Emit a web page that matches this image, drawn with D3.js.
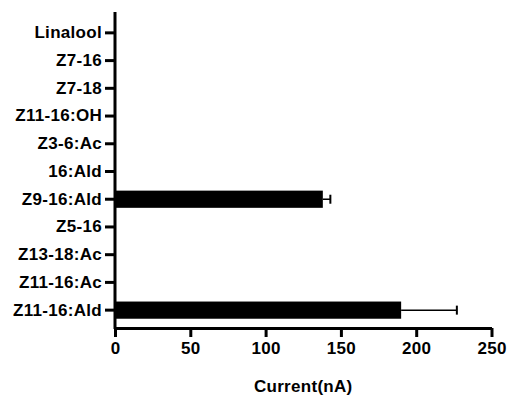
<!DOCTYPE html>
<html>
<head>
<meta charset="utf-8">
<script src="https://cdn.jsdelivr.net/npm/d3@7"></script>
<style>
  body { margin: 0; background: #fff; }
  text { font-family: "Liberation Sans", Arial, sans-serif; font-weight: bold; letter-spacing: 0.3px; }
</style>
</head>
<body>
<div id="chart"></div>
<script>
// data
var compounds = ["Linalool", "Z7-16", "Z7-18", "Z11-16:OH", "Z3-6:Ac", "16:Ald",
                 "Z9-16:Ald", "Z5-16", "Z13-18:Ac", "Z11-16:Ac", "Z11-16:Ald"];
var current = [0, 0, 0, 0, 0, 0, 138, 0, 0, 0, 190];
var currentErr = [0, 0, 0, 0, 0, 0, 5, 0, 0, 0, 37];
var xTicks = [0, 50, 100, 150, 200, 250];

var width = 508;
var height = 398;

var svg = d3.select("#chart")
  .append("svg")
  .attr("width", width)
  .attr("height", height);

var x = d3.scaleLinear().domain([0, 250]).range([115, 491.5]);
var y = d3.scaleBand().domain(compounds).range([19, 324])
  .paddingInner(0.38).paddingOuter(0.19);

var rows = compounds.map(function(c, i) {
  return {name: c, value: current[i], err: currentErr[i]};
});

// bars
svg.selectAll("rect.bar")
  .data(rows.filter(function(d) { return d.value > 0; }))
  .enter()
  .append("rect")
  .attr("class", "bar")
  .attr("x", x(0))
  .attr("y", function(d) { return y(d.name); })
  .attr("width", function(d) { return x(d.value) - x(0); })
  .attr("height", y.bandwidth())
  .attr("fill", "#000");

// error bars (one side only)
var eb = svg.selectAll("g.err")
  .data(rows.filter(function(d) { return d.err > 0; }))
  .enter()
  .append("g")
  .attr("class", "err");

eb.append("line")
  .attr("x1", function(d) { return x(d.value); })
  .attr("x2", function(d) { return x(d.value + d.err); })
  .attr("y1", function(d) { return y(d.name) + y.bandwidth() / 2; })
  .attr("y2", function(d) { return y(d.name) + y.bandwidth() / 2; })
  .attr("stroke", "#000")
  .attr("stroke-width", 1.5);

eb.append("line")
  .attr("x1", function(d) { return x(d.value + d.err); })
  .attr("x2", function(d) { return x(d.value + d.err); })
  .attr("y1", function(d) { return y(d.name) + y.bandwidth() / 2 - 4.5; })
  .attr("y2", function(d) { return y(d.name) + y.bandwidth() / 2 + 4.5; })
  .attr("stroke", "#000")
  .attr("stroke-width", 2);

// y axis
var yAxis = svg.append("g")
  .attr("transform", "translate(" + x(0) + ",0)")
  .call(d3.axisLeft(y).tickSize(10).tickSizeOuter(0).tickPadding(3));
yAxis.select(".domain").remove();
yAxis.selectAll(".tick line").attr("stroke-width", 3);
yAxis.selectAll(".tick text")
  .attr("font-size", 17)
  .attr("fill", "#000");

svg.append("line")
  .attr("x1", x(0)).attr("x2", x(0))
  .attr("y1", 12).attr("y2", 329)
  .attr("stroke", "#000")
  .attr("stroke-width", 3);

// x axis
var xAxis = svg.append("g")
  .attr("transform", "translate(0,328)")
  .call(d3.axisBottom(x).tickValues(xTicks).tickSize(9).tickSizeOuter(0).tickPadding(5));
xAxis.select(".domain").attr("stroke-width", 3);
xAxis.selectAll(".tick line").attr("stroke-width", 3);
xAxis.selectAll(".tick text")
  .attr("font-size", 17)
  .attr("fill", "#000");

svg.append("text")
  .attr("x", (x(0) + x(250)) / 2)
  .attr("y", 392)
  .attr("text-anchor", "middle")
  .attr("font-size", 17)
  .text("Current(nA)");
</script>
</body>
</html>
